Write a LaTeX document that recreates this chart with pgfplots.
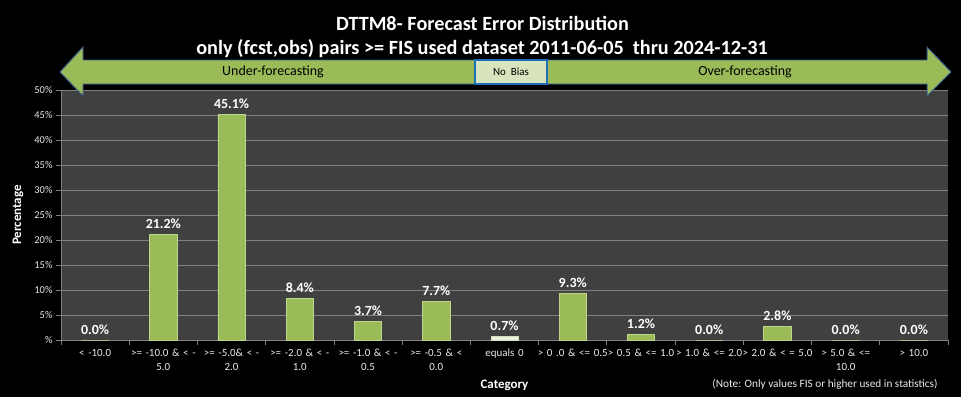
\documentclass[border=0pt]{standalone}
\usepackage{pgfplots}
\pgfplotsset{compat=1.18}
\usepackage{fontspec}
\setmainfont{Carlito}
\definecolor{bggray}{RGB}{64,64,64}
\definecolor{gridgray}{RGB}{128,128,128}
\definecolor{bargreen}{RGB}{155,187,89}
\definecolor{barlight}{RGB}{190,214,140}
\definecolor{palegreen}{RGB}{235,241,222}
\definecolor{arrowblue}{RGB}{56,93,138}
\definecolor{boxblue}{RGB}{31,111,181}
\definecolor{boxfill}{RGB}{215,228,189}
\definecolor{ticktext}{RGB}{235,235,235}
\pgfplotstableread{
x y
0 0.0
1 21.2
2 45.1
3 8.4
4 3.7
5 7.7
7 9.3
8 1.2
9 0.0
10 2.8
11 0.0
12 0.0
}\greendata
\pgfplotstableread{
x y
6 0.7
}\paledata
\begin{document}
\begin{tikzpicture}[x=1bp,y=1bp]
\fill[black] (0,0) rectangle (961,397);
\begin{axis}[
  at={(61bp,57bp)}, anchor=south west,
  scale only axis, width=887bp, height=250bp,
  xmin=-0.5, xmax=12.5, ymin=0, ymax=50,
  /pgf/number format/assume math mode=true,
  axis background/.style={fill=bggray},
  axis line style={gridgray, line width=0.8pt},
  axis x line*=bottom, axis y line*=left,
  ymajorgrids, grid style={gridgray, line width=0.9pt},
  ytick={0,5,...,50},
  yticklabels={\%,5\%,10\%,15\%,20\%,25\%,30\%,35\%,40\%,45\%,50\%},
  yticklabel style={font=\fontsize{10.5}{12}\selectfont, text=ticktext},
  xtick={-0.5,0.5,...,12.5},
  xticklabels={},
  extra x ticks={0,1,...,12},
  extra x tick style={major tick length=0pt, grid=none,
    xticklabel style={font=\fontsize{11}{14}\selectfont, text=ticktext, align=center, text width=70bp, inner sep=0pt, yshift=-9bp}},
  extra x tick labels={{< -10.0},{>= -10.0 \& < -\\5.0},{>= -5.0\& < -\\2.0},{>= -2.0 \& < -\\1.0},{>= -1.0 \& < -\\0.5},{>= -0.5 \& <\\0.0},{equals 0},{> 0 .0 \& <= 0.5},{> 0.5 \& <= 1.0},{> 1.0 \& <= 2.0},{> 2.0 \& < = 5.0},{> 5.0 \& <=\\10.0},{> 10.0}},
  major tick length=5bp,
  tick style={gridgray, line width=0.8pt},
  tick align=outside,
  xtick pos=bottom, ytick pos=left,
  ylabel={\textbf{Percentage}},
  ylabel style={font=\fontsize{13}{15}\selectfont, text=white, at={(axis description cs:0,0.5)}, anchor=center, yshift=43bp},
  xlabel={\textbf{Category}},
  xlabel style={font=\fontsize{13}{15}\selectfont, text=white, at={(axis description cs:0.5,0)}, anchor=center, yshift=-45bp},
  ybar, bar width=0.4, bar shift=0pt,
  nodes near coords={\pgfmathprintnumber[fixed,fixed zerofill,precision=1]{\pgfplotspointmeta}\%},
  nodes near coords style={font=\bfseries\fontsize{14}{16}\selectfont, text=white, yshift=2bp},
  clip=false,
]
\addplot[fill=bargreen, draw=barlight, line width=0.6pt] table[x=x,y=y]{\greendata};
\addplot[fill=palegreen, draw=palegreen!70!bargreen, line width=0.6pt] table[x=x,y=y]{\paledata};
\end{axis}
% title
\node[text=white, font=\bfseries\fontsize{20.3}{24}\selectfont] at (482.5,397-23) {DTTM8- Forecast Error Distribution};
\node[text=white, font=\bfseries\fontsize{20.3}{24}\selectfont] at (482,397-48.5) {only (fcst,obs) pairs >= FIS used dataset 2011-06-05\ \ thru 2024-12-31};
% double arrow
\filldraw[fill=bargreen, draw=arrowblue, line width=1pt]
  (60,397-72) -- (83,397-47) -- (83,397-60) -- (927,397-60) -- (927,397-47) -- (951,397-72)
  -- (927,397-96) -- (927,397-84) -- (83,397-84) -- (83,397-96) -- cycle;
\filldraw[fill=boxfill, draw=boxblue, line width=1.5pt] (475,397-60) rectangle (547,397-84);
\node[font=\fontsize{14}{16}\selectfont, text=black] at (273,397-72) {Under-forecasting};
\node[font=\fontsize{11}{12}\selectfont, text=black] at (511,397-72) {No\ \ Bias};
\node[font=\fontsize{14}{16}\selectfont, text=black] at (745,397-72) {Over-forecasting};
\node[font=\fontsize{11.3}{13}\selectfont, text=ticktext] at (825,397-384) {(Note: Only values FIS or higher used in statistics)};
\pgfresetboundingbox
\path[use as bounding box] (0,0) rectangle (961,397);
\end{tikzpicture}
\end{document}
